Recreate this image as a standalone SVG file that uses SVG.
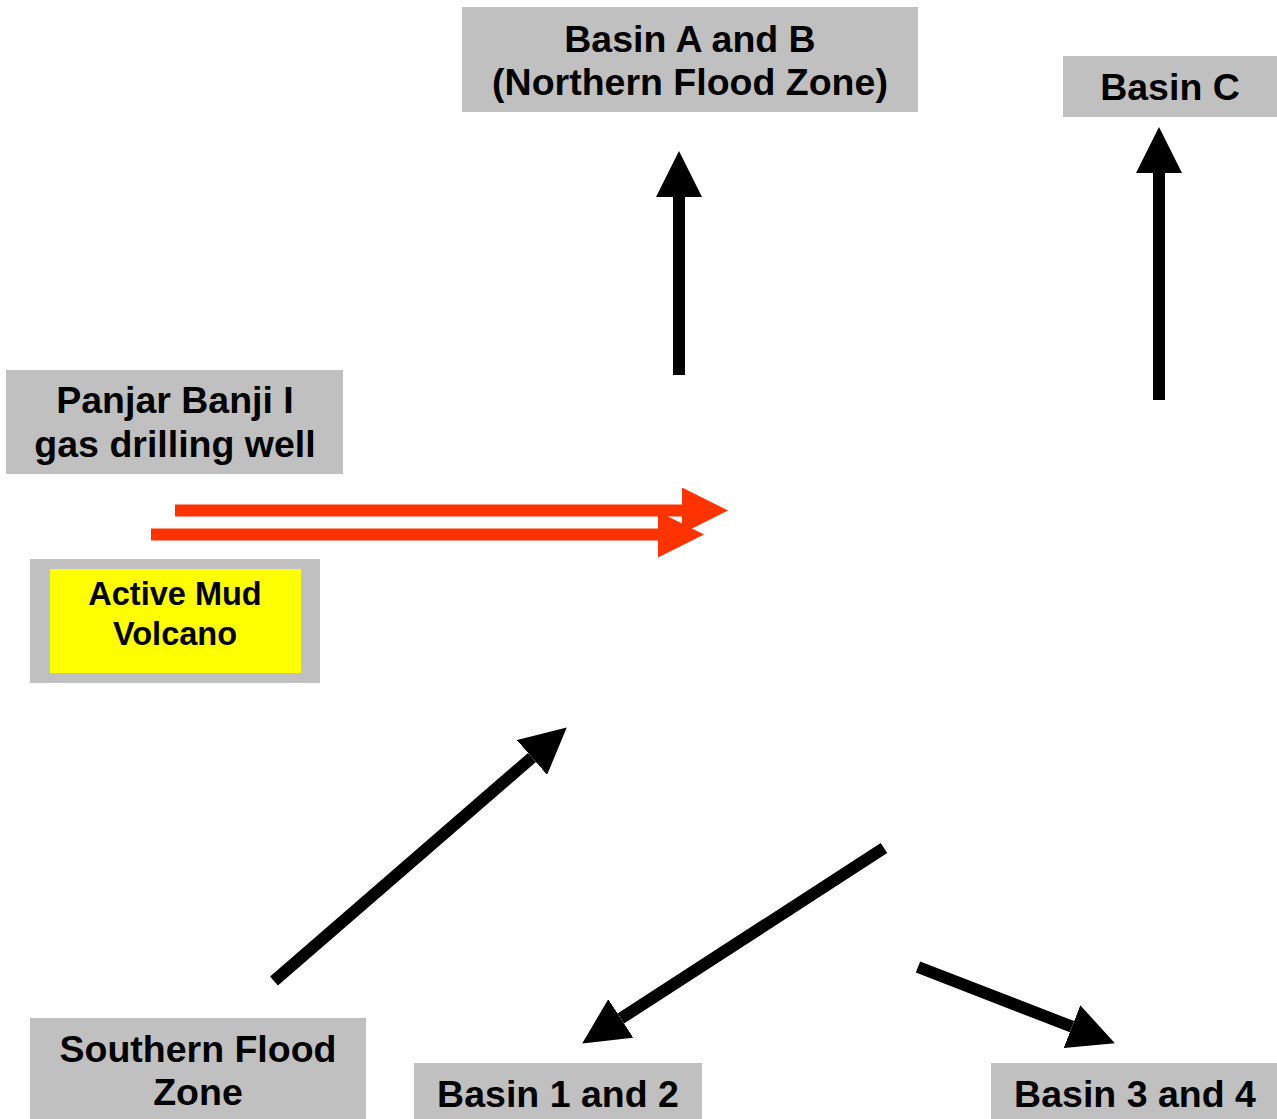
<svg xmlns="http://www.w3.org/2000/svg" width="1277" height="1119" viewBox="0 0 1277 1119">
<style>
.box{fill:#C0C0C0}
.t{font-family:"Liberation Sans",Arial,sans-serif;font-weight:bold;font-size:37.5px;fill:#000;text-anchor:middle}
.ts{font-size:32.5px}
.blk{stroke:#000;stroke-width:12;fill:none;marker-end:url(#hb)}
.red{stroke:#FF3300;stroke-width:12;fill:none;marker-end:url(#hr)}
</style>
<defs>
<marker id="hb" markerUnits="userSpaceOnUse" markerWidth="46" markerHeight="46" refX="0" refY="23" orient="auto" viewBox="0 0 46 46"><path d="M0,0 L46,23 L0,46 Z" fill="#000"/></marker>
<marker id="hr" markerUnits="userSpaceOnUse" markerWidth="46" markerHeight="46" refX="0" refY="23" orient="auto" viewBox="0 0 46 46"><path d="M0,0 L46,23 L0,46 Z" fill="#FF3300"/></marker>
</defs>
<rect width="1277" height="1119" fill="#fff"/>
<g id="basinAB"><rect class="box" x="462" y="7" width="456" height="105"/><text class="t" x="690" y="52">Basin A and B</text><text class="t" x="690" y="95">(Northern Flood Zone)</text></g>
<g id="basinC"><rect class="box" x="1063" y="56" width="214" height="61"/><text class="t" x="1170" y="100">Basin C</text></g>
<g id="panjar"><rect class="box" x="6" y="370" width="337" height="104"/><text class="t" x="175" y="413">Panjar Banji I</text><text class="t" x="175" y="457">gas drilling well</text></g>
<g id="mudVolcano"><rect class="box" x="30" y="559" width="290" height="124"/><rect x="50" y="569" width="251" height="104" fill="#FFFF00"/><text class="t ts" x="175" y="605">Active Mud</text><text class="t ts" x="175" y="645">Volcano</text></g>
<g id="southern"><rect class="box" x="30" y="1018" width="336" height="101"/><text class="t" x="198" y="1062">Southern Flood</text><text class="t" x="198" y="1105">Zone</text></g>
<g id="basin12"><rect class="box" x="414" y="1063" width="288" height="56"/><text class="t" x="558" y="1107">Basin 1 and 2</text></g>
<g id="basin34"><rect class="box" x="991" y="1063" width="286" height="56"/><text class="t" x="1135" y="1107">Basin 3 and 4</text></g>
<g id="connectors">
<line class="blk" x1="679" y1="375" x2="679" y2="197"/>
<line class="blk" x1="1159" y1="400" x2="1159" y2="173"/>
<line class="red" x1="175" y1="510.5" x2="682" y2="510.5"/>
<line class="red" x1="151" y1="534.5" x2="658" y2="534.5"/>
<line class="blk" x1="274" y1="981" x2="532" y2="757.5"/>
<line class="blk" x1="884" y1="848" x2="620.8" y2="1018.5"/>
<line class="blk" x1="918" y1="967" x2="1072" y2="1026.7"/>
</g>
</svg>
